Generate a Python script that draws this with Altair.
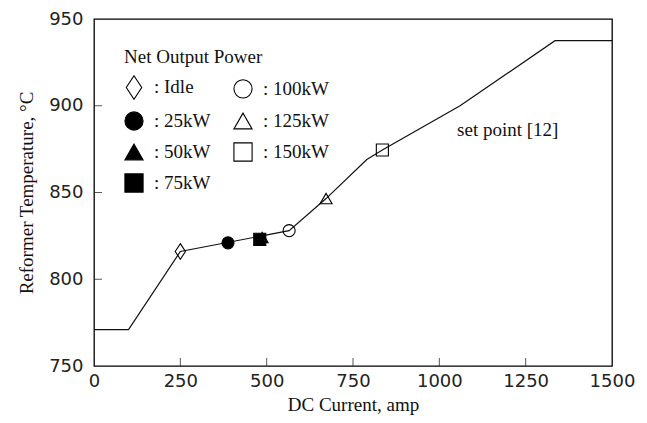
import altair as alt
import pandas as pd

# Set-point curve (DC current, amp -> reformer temperature, degC)
curve_x = [0, 100, 250, 565, 672, 790, 835, 1060, 1335, 1500]
curve_y = [771, 771, 816, 828, 846.5, 869, 874.5, 900, 937.5, 937.5]

# Operating points (legend is filled column by column)
labels = ["Idle", "25kW", "50kW", "75kW", "100kW", "125kW", "150kW"]
pt_x = [250, 388, 487, 480, 565, 672, 835]
pt_y = [816, 821, 824, 823, 828, 846.5, 874.5]
shapes = ["M0,-1.3L0.85,0L0,1.3L-0.85,0Z", "circle", "triangle-up", "square",
          "circle", "triangle-up", "square"]
fills = ["transparent", "black", "black", "black",
         "transparent", "transparent", "transparent"]
strokes = ["black"] * 7

x_ticks = [250, 500, 750, 1000, 1250]
y_ticks = [800, 850, 900]

curve = pd.DataFrame({"x": curve_x, "y": curve_y})
pts = pd.DataFrame({"label": labels, "x": pt_x, "y": pt_y})
xt = pd.DataFrame({"v": x_ticks})
yt = pd.DataFrame({"v": y_ticks})
note = pd.DataFrame({"x": [1198], "y": [886], "t": ["set point [12]"]})

W, H = 518, 347
SERIF = "Liberation Serif"
SANS = "DejaVu Sans"

xscale = alt.Scale(domain=[0, 1500], nice=False, zero=False)
yscale = alt.Scale(domain=[750, 950], nice=False, zero=False)

xaxis = alt.Axis(values=[0, 250, 500, 750, 1000, 1250, 1500], format="d",
                 title="DC Current, amp", grid=False, domain=False,
                 ticks=False, tickSize=0, labelFlush=False, labelFont=SANS,
                 labelFontSize=18, labelColor="#222", labelPadding=6,
                 titleFont=SERIF, titleFontSize=19, titleFontWeight="normal",
                 titleColor="#111", titlePadding=5)
yaxis = alt.Axis(values=[750, 800, 850, 900, 950], format="d",
                 title="Reformer Temperature, °C", grid=False, domain=False,
                 ticks=False, tickSize=0, labelFlush=False, labelFont=SANS,
                 labelFontSize=18, labelColor="#222", labelPadding=11,
                 titleFont=SERIF, titleFontSize=19, titleFontWeight="normal",
                 titleColor="#111", titlePadding=12)

legend = alt.Legend(title="Net Output Power", columns=2, orient="none",
                    legendX=30, legendY=29, labelExpr="': ' + datum.label",
                    symbolStrokeWidth=1.1)

line = alt.Chart(curve).mark_line(color="#111", strokeWidth=1.2).encode(
    x=alt.X("x:Q", scale=xscale, axis=xaxis),
    y=alt.Y("y:Q", scale=yscale, axis=yaxis),
)

points = alt.Chart(pts).mark_point(filled=True, strokeWidth=1.1, size=145,
                                   opacity=1).encode(
    x=alt.X("x:Q", scale=xscale),
    y=alt.Y("y:Q", scale=yscale),
    shape=alt.Shape("label:N", scale=alt.Scale(domain=labels, range=shapes),
                    legend=legend),
    fill=alt.Fill("label:N", scale=alt.Scale(domain=labels, range=fills),
                  legend=legend),
    stroke=alt.Stroke("label:N", scale=alt.Scale(domain=labels, range=strokes),
                      legend=legend),
)

xticks = alt.Chart(xt).mark_tick(color="#111", size=8, thickness=1).encode(
    x=alt.X("v:Q", scale=xscale), y=alt.value(H - 4))
yticks = alt.Chart(yt).mark_tick(color="#111", size=8, thickness=1,
                                 orient="horizontal").encode(
    y=alt.Y("v:Q", scale=yscale), x=alt.value(4))

txt = alt.Chart(note).mark_text(font=SERIF, fontSize=19, color="#111").encode(
    x=alt.X("x:Q", scale=xscale), y=alt.Y("y:Q", scale=yscale), text="t:N")

chart = alt.layer(line, xticks, yticks, points, txt).properties(
    width=W, height=H,
    autosize=alt.AutoSizeParams(type="none"),
    padding={"left": 86, "top": 11, "right": 27, "bottom": 49},
).configure_view(stroke="black", strokeWidth=1.3).configure_legend(
    titleFont=SERIF, titleFontSize=19, titleFontWeight="normal",
    titleColor="#111", labelFont=SERIF, labelFontSize=19, labelColor="#111",
    symbolSize=330, symbolStrokeWidth=1.1,
    rowPadding=7, columnPadding=20, labelOffset=10, titlePadding=10,
    padding=0,
)

chart.save("out.html", embed_options={"renderer": "svg", "actions": False})
